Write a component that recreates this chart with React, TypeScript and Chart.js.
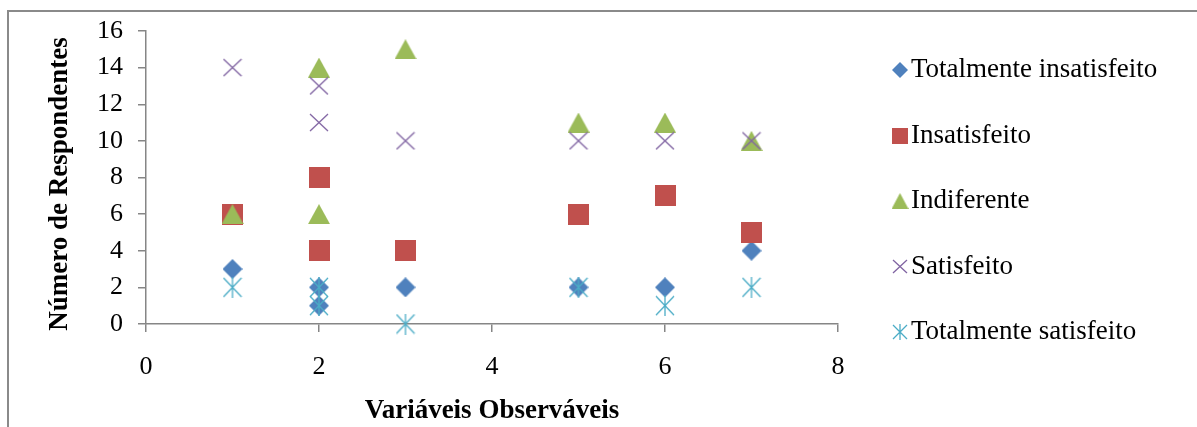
import React, { useEffect, useRef } from 'react';
import { Chart, registerables } from 'chart.js';

Chart.register(...registerables);

// Observed variable index for every response count below
const observedVariables = [1, 2, 2, 3, 5, 6, 7];

// Number of respondents per satisfaction level
const totalmenteInsatisfeito = [3, 2, 1, 2, 2, 2, 4];
const insatisfeito = [6, 8, 4, 4, 6, 7, 5];
const indiferente = [6, 14, 6, 15, 11, 11, 10];
const satisfeito = [14, 13, 11, 10, 10, 10, 10];
const totalmenteSatisfeito = [2, 2, 1, 0, 2, 1, 2];

const seriesNames = [
  'Totalmente insatisfeito',
  'Insatisfeito',
  'Indiferente',
  'Satisfeito',
  'Totalmente satisfeito',
];

const xTickValues = [0, 2, 4, 6, 8];
const yTickValues = [0, 2, 4, 6, 8, 10, 12, 14, 16];

const xTitle = 'Variáveis Observáveis';
const yTitle = 'Número de Respondentes';

type MarkerKind = 'diamond' | 'square' | 'triangle' | 'cross' | 'asterisk';

const markerKinds: MarkerKind[] = ['diamond', 'square', 'triangle', 'cross', 'asterisk'];
const markerColors = ['#4F81BD', '#C0504D', '#9BBB59', '#8064A2', '#4BACC6'];

const FONT = '"Liberation Serif", "Times New Roman", serif';

// Builds a small offscreen canvas holding one marker glyph
function makeMarker(kind: MarkerKind, color: string, k: number): HTMLCanvasElement {
  const sizes: Record<MarkerKind, [number, number]> = {
    diamond: [20, 20],
    square: [21, 21],
    triangle: [22, 20],
    cross: [20, 19],
    asterisk: [20, 21],
  };
  const [bw, bh] = sizes[kind];
  const w = Math.round(bw * k);
  const h = Math.round(bh * k);
  const c = document.createElement('canvas');
  c.width = w;
  c.height = h;
  const ctx = c.getContext('2d')!;
  ctx.fillStyle = color;
  ctx.strokeStyle = color;
  ctx.lineWidth = 1.3;
  ctx.beginPath();
  if (kind === 'diamond') {
    ctx.moveTo(w / 2, 0);
    ctx.lineTo(w, h / 2);
    ctx.lineTo(w / 2, h);
    ctx.lineTo(0, h / 2);
    ctx.closePath();
    ctx.fill();
  } else if (kind === 'square') {
    ctx.fillRect(0, 0, w, h);
  } else if (kind === 'triangle') {
    ctx.moveTo(w / 2, 0);
    ctx.lineTo(w, h);
    ctx.lineTo(0, h);
    ctx.closePath();
    ctx.fill();
  } else if (kind === 'cross') {
    ctx.moveTo(1, 1);
    ctx.lineTo(w - 1, h - 1);
    ctx.moveTo(w - 1, 1);
    ctx.lineTo(1, h - 1);
    ctx.stroke();
  } else {
    ctx.moveTo(1, 1);
    ctx.lineTo(w - 1, h - 1);
    ctx.moveTo(w - 1, 1);
    ctx.lineTo(1, h - 1);
    ctx.moveTo(w / 2, 0);
    ctx.lineTo(w / 2, h);
    ctx.stroke();
  }
  return c;
}

export default function App() {
  const canvasRef = useRef<HTMLCanvasElement | null>(null);

  useEffect(() => {
    document.body.style.margin = '0';
    document.body.style.overflow = 'hidden';
    const canvas = canvasRef.current;
    if (!canvas) return;

    const seriesValues = [
      totalmenteInsatisfeito,
      insatisfeito,
      indiferente,
      satisfeito,
      totalmenteSatisfeito,
    ];

    const plotMarkers = markerKinds.map((kind, i) => makeMarker(kind, markerColors[i], 1));
    const legendMarkers = markerKinds.map((kind, i) => makeMarker(kind, markerColors[i], 0.78));

    // Legend column on the right plus the rotated value-axis title
    const sideAnnotations = {
      id: 'sideAnnotations',
      afterDraw(chart: any) {
        const ctx = chart.ctx as CanvasRenderingContext2D;
        ctx.save();
        ctx.font = `27px ${FONT}`;
        ctx.fillStyle = '#000000';
        ctx.textBaseline = 'middle';
        ctx.textAlign = 'left';
        chart.data.datasets.forEach((ds: any, i: number) => {
          const cy = 70 + i * 65.5;
          const img = legendMarkers[i];
          ctx.drawImage(img, 900 - img.width / 2, cy - img.height / 2);
          ctx.fillText(ds.label, 911, cy);
        });
        ctx.restore();

        ctx.save();
        ctx.translate(60, 184);
        ctx.rotate(-Math.PI / 2);
        ctx.font = `bold 27px ${FONT}`;
        ctx.fillStyle = '#000000';
        ctx.textAlign = 'center';
        ctx.textBaseline = 'middle';
        ctx.fillText(yTitle, 0, 0);
        ctx.restore();
      },
    };

    const axisGrey = '#868686';
    const n = seriesValues.length;

    const chart = new Chart(canvas, {
      type: 'scatter',
      data: {
        datasets: seriesValues.map((values, i) => ({
          label: seriesNames[i],
          data: values.map((v, j) => ({ x: observedVariables[j], y: v })),
          pointStyle: plotMarkers[i],
          backgroundColor: markerColors[i],
          borderColor: markerColors[i],
          showLine: false,
          // later series are painted over earlier ones
          order: n - i,
          clip: false as any,
        })),
      },
      options: {
        animation: false,
        responsive: false,
        devicePixelRatio: 1,
        layout: { padding: { left: 0, top: 31, right: 359, bottom: 0 } },
        plugins: {
          legend: { display: false },
          tooltip: { enabled: false },
        },
        scales: {
          x: {
            type: 'linear',
            min: 0,
            max: 8,
            afterBuildTicks: (scale: any) => {
              scale.ticks = xTickValues.map((v) => ({ value: v }));
            },
            afterFit: (scale: any) => {
              scale.height = 103;
            },
            ticks: {
              color: '#000000',
              font: { family: FONT, size: 26 },
              padding: 20,
              maxRotation: 0,
              autoSkip: false,
            },
            grid: {
              drawOnChartArea: false,
              drawTicks: true,
              tickLength: 8,
              color: axisGrey,
              lineWidth: 1.5,
            },
            border: { display: true, color: axisGrey, width: 1.5 },
            title: {
              display: true,
              text: xTitle,
              color: '#000000',
              font: { family: FONT, size: 27, weight: 'bold' },
              padding: { top: 0, bottom: 0 },
            },
          },
          y: {
            type: 'linear',
            min: 0,
            max: 16,
            afterBuildTicks: (scale: any) => {
              scale.ticks = yTickValues.map((v) => ({ value: v }));
            },
            afterFit: (scale: any) => {
              scale.width = 146;
            },
            ticks: {
              color: '#000000',
              font: { family: FONT, size: 26 },
              padding: 15,
              autoSkip: false,
            },
            grid: {
              drawOnChartArea: false,
              drawTicks: true,
              tickLength: 8,
              color: axisGrey,
              lineWidth: 1.5,
            },
            border: { display: true, color: axisGrey, width: 1.5 },
            title: { display: false },
          },
        },
      },
      plugins: [sideAnnotations],
    });

    return () => chart.destroy();
  }, []);

  return (
    <div style={{ position: 'fixed', left: 0, top: 0, width: 1197, height: 427, background: '#ffffff', overflow: 'hidden' }}>
      <div
        style={{
          position: 'absolute',
          left: 7,
          top: 10,
          width: 1400,
          height: 600,
          border: '2px solid #8a8a8a',
        }}
      />
      <canvas
        ref={canvasRef}
        width={1197}
        height={427}
        style={{ position: 'absolute', left: 0, top: 0, width: 1197, height: 427 }}
      />
    </div>
  );
}
